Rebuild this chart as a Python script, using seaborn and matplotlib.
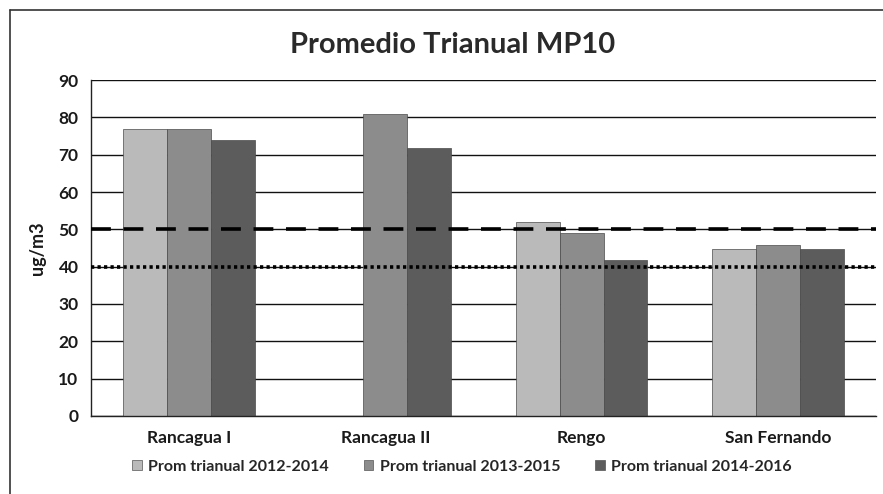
import numpy as np
import pandas as pd
import matplotlib
matplotlib.use("Agg")
import matplotlib.pyplot as plt
import seaborn as sns
from matplotlib.lines import Line2D
from matplotlib.patches import Patch

stations = ["Rancagua I", "Rancagua II", "Rengo", "San Fernando"]
series_names = ["Prom trianual 2012-2014", "Prom trianual 2013-2015", "Prom trianual 2014-2016"]
vals_2012_2014 = [76.8, np.nan, 51.9, 44.7]
vals_2013_2015 = [77.0, 81.0, 48.9, 45.8]
vals_2014_2016 = [74.0, 71.9, 41.7, 44.7]
limit_dashed = 50
limit_dotted = 40
yticks = [0, 10, 20, 30, 40, 50, 60, 70, 80, 90]
colors = ["#bababa", "#8c8c8c", "#5c5c5c"]

rows = []
for name, vals in zip(series_names, [vals_2012_2014, vals_2013_2015, vals_2014_2016]):
    for st, v in zip(stations, vals):
        rows.append({"Estacion": st, "Serie": name, "Valor": v})
df = pd.DataFrame(rows)

sns.set_theme(style="white")
plt.rcParams["font.family"] = ["Lato", "DejaVu Sans"]
plt.rcParams["font.weight"] = "bold"

fig = plt.figure(figsize=(8.83, 4.94), dpi=100)
ax = fig.add_axes([91/883, 1-416/494, (876-91)/883, (416-80)/494])

sns.barplot(data=df, x="Estacion", y="Valor", hue="Serie", order=stations,
            hue_order=series_names, palette=colors, width=0.67, ax=ax,
            edgecolor="#4a4a4a", linewidth=0.5, legend=False, errorbar=None, zorder=2)

ax.set_ylim(0, 90)
ax.set_xlim(-0.5, 3.5)
ax.set_yticks(yticks)
ax.yaxis.grid(True, color="#111111", linewidth=1.0, zorder=0)
ax.set_axisbelow(True)
for s in ["top", "right"]:
    ax.spines[s].set_visible(False)
for s in ["left", "bottom"]:
    ax.spines[s].set_color("#222222")
    ax.spines[s].set_linewidth(1.0)
ax.tick_params(axis="both", length=0, labelsize=12.5, colors="#1a1a1a", pad=9)
for lab in ax.get_xticklabels() + ax.get_yticklabels():
    lab.set_fontweight("bold")
ax.tick_params(axis="x", pad=10)
ax.set_xlabel("")
ax.set_ylabel("ug/m3", fontsize=13, fontweight="bold", color="#1a1a1a", labelpad=9)

ax.axhline(limit_dashed, color="black", linewidth=2.6, linestyle=(0, (5.5, 3.5)), zorder=4)
ax.axhline(limit_dotted, color="black", linewidth=2.6, linestyle=(0, (0.9, 0.9)), zorder=4)

fig.text(0.512, 1-45/494, "Promedio Trianual MP10", ha="center", va="center",
         fontsize=21, fontweight="bold", color="#2a2a2a")

handles = [Patch(facecolor=c, edgecolor="#555555", linewidth=0.5) for c in colors]
fig.legend(handles, series_names, loc="center", bbox_to_anchor=(462/883, 1-467/494),
           ncol=3, frameon=False, handlelength=0.6, handleheight=0.6,
           handletextpad=0.4, columnspacing=2.2, prop={"weight": "bold", "size": 11.5})

fig.add_artist(Line2D([10/883, 10/883], [0, 1-10/494], color="#333333", linewidth=1.2))
fig.add_artist(Line2D([10/883, 1], [1-10/494, 1-10/494], color="#333333", linewidth=1.2))

fig.savefig("out.png", dpi=100)
